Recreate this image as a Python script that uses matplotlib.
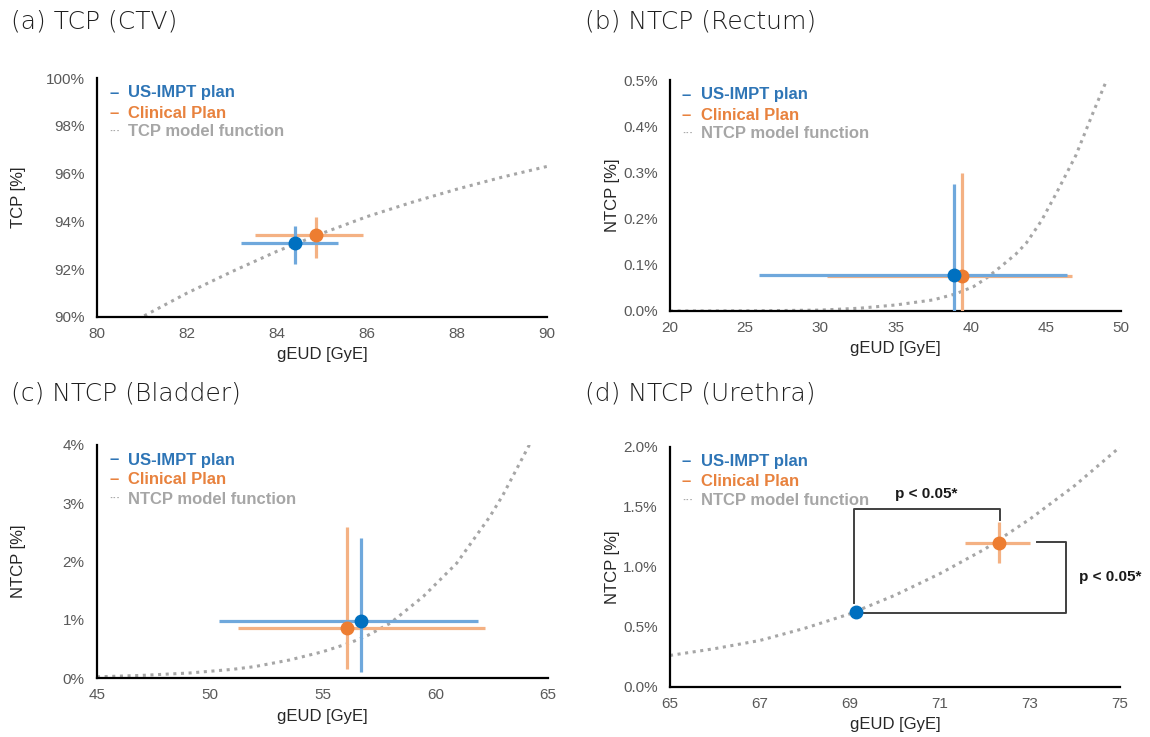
import matplotlib
matplotlib.use("Agg")
import matplotlib.pyplot as plt
import matplotlib.transforms as mtransforms
from matplotlib.ticker import FuncFormatter

# =====================================================================
# DATA
# =====================================================================
# (a) TCP (CTV)
a_model_x = [80.0, 81.0, 82.0, 83.0, 84.0, 85.0, 86.0, 87.0, 88.0, 89.0, 90.0]
a_model_y = [89.0, 90.0, 91.0, 91.9, 92.75, 93.5, 94.2, 94.8, 95.35, 95.85, 96.3]
a_us = dict(x=84.4, y=93.1, xerr=(1.2, 0.95), yerr=(0.9, 0.7))
a_cl = dict(x=84.87, y=93.45, xerr=(1.35, 1.05), yerr=(1.0, 0.72))

# (b) NTCP (Rectum)
b_model_x = [20.0, 26.0, 30.0, 32.6, 35.0, 37.5, 39.0, 40.2, 41.0, 42.0, 43.0,
             43.7, 44.7, 45.7, 47.0, 48.2, 49.0, 49.6]
b_model_y = [0.0, 0.0005, 0.002, 0.006, 0.013, 0.024, 0.037, 0.053, 0.07, 0.096, 0.123,
             0.147, 0.195, 0.255, 0.337, 0.434, 0.496, 0.54]
b_us = dict(x=38.87, y=0.079, xerr=(12.93, 7.52), yerr=(0.079, 0.195))
b_cl = dict(x=39.4, y=0.076, xerr=(8.97, 7.33), yerr=(0.076, 0.222))

# (c) NTCP (Bladder)
c_model_x = [45.0, 47.0, 49.1, 51.0, 52.0, 53.55, 55.0, 56.2, 57.0, 58.0, 59.47,
             60.95, 62.42, 63.0, 64.17, 64.5]
c_model_y = [0.02, 0.045, 0.086, 0.148, 0.196, 0.31, 0.45, 0.6, 0.73, 0.94, 1.40,
             1.97, 2.77, 3.14, 4.0, 4.25]
c_us = dict(x=56.72, y=0.98, xerr=(6.3, 5.18), yerr=(0.87, 1.43))
c_cl = dict(x=56.08, y=0.85, xerr=(4.83, 6.12), yerr=(0.70, 1.74))

# (d) NTCP (Urethra)
d_model_x = [65.0, 66.0, 67.0, 68.0, 69.0, 70.0, 71.0, 72.0, 73.0, 74.0, 75.0]
d_model_y = [0.263, 0.32, 0.388, 0.49, 0.61, 0.765, 0.945, 1.15, 1.40, 1.68, 2.0]
d_us = dict(x=69.13, y=0.627, xerr=(0.0, 0.0), yerr=(0.0, 0.0))
d_cl = dict(x=72.32, y=1.203, xerr=(0.76, 0.68), yerr=(0.17, 0.17))

# significance brackets in (d)
brk1_x = [69.09, 69.09, 72.33, 72.33]
brk1_y = [0.70, 1.483, 1.483, 1.39]
brk2_x = [73.15, 73.79, 73.79, 69.31]
brk2_y = [1.205, 1.205, 0.62, 0.62]
p_label = "p < 0.05*"
p1_pos = (70.7, 1.61)
p2_pos = (74.78, 0.914)

# =====================================================================
# STYLE
# =====================================================================
BLUE_PT = '#0070C0'
BLUE_ERR = '#6FA8DC'
BLUE_TXT = '#2E75B6'
ORANGE_PT = '#ED7D31'
ORANGE_ERR = '#F4B183'
ORANGE_TXT = '#E8823E'
GREY = '#A6A6A6'
TICK_COL = '#595959'

plt.rcParams['font.family'] = ['Liberation Sans', 'DejaVu Sans']

W, H = 1150, 737
fig = plt.figure(figsize=(W / 100, H / 100), dpi=100)
fig.patch.set_facecolor('white')


def make_axes(left, right, top, bottom):
    return fig.add_axes([left / W, 1 - bottom / H, (right - left) / W, (bottom - top) / H])


def style_axes(ax, xlim, xticks, ylim, yticks, yfmt, ylabel, ylabel_x):
    ax.set_xlim(*xlim)
    ax.set_ylim(*ylim)
    ax.set_xticks(xticks)
    ax.set_yticks(yticks)
    ax.yaxis.set_major_formatter(FuncFormatter(lambda v, p: yfmt.format(v)))
    for s in ['top', 'right']:
        ax.spines[s].set_visible(False)
    for s in ['left', 'bottom']:
        ax.spines[s].set_linewidth(1.6)
        ax.spines[s].set_color('black')
    ax.tick_params(axis='both', length=0, labelsize=11, labelcolor=TICK_COL)
    ax.tick_params(axis='x', pad=7)
    ax.tick_params(axis='y', pad=9)
    ax.set_xlabel("gEUD [GyE]", fontsize=12, color='#262626')
    ax.xaxis.label.set_va('center')
    ax.xaxis.set_label_coords(0.5, -38 / (ax.bbox.height), transform=ax.transAxes)
    ax.set_ylabel(ylabel, fontsize=12, color='#262626')
    ax.yaxis.label.set_va('center')
    pos = ax.get_position()
    ax.yaxis.set_label_coords(ylabel_x / W, pos.y0 + pos.height / 2, transform=fig.transFigure)


def legend_block(ax, model_label):
    rows = [("–", "US-IMPT plan", BLUE_TXT, -15),
            ("–", "Clinical Plan", ORANGE_TXT, -35),
            ("···", model_label, GREY, -54)]
    for mark, label, col, dy in rows:
        t1 = mtransforms.offset_copy(ax.transAxes, fig=fig, x=12, y=dy, units='dots')
        t2 = mtransforms.offset_copy(ax.transAxes, fig=fig, x=31, y=dy, units='dots')
        ax.text(0, 1, mark, transform=t1, color=col, fontsize=12 if mark == "–" else 8,
                fontweight='bold', va='center', ha='left')
        ax.text(0, 1, label, transform=t2, color=col, fontsize=12,
                fontweight='bold', va='center', ha='left')


def draw_panel(ax, mx, my, us, cl):
    ax.plot(mx, my, color=GREY, lw=2.2, linestyle=(0, (1, 1.5)), zorder=2)
    for d, ec, fc in [(cl, ORANGE_ERR, ORANGE_PT), (us, BLUE_ERR, BLUE_PT)]:
        ax.errorbar([d['x']], [d['y']],
                    xerr=[[d['xerr'][0]], [d['xerr'][1]]],
                    yerr=[[d['yerr'][0]], [d['yerr'][1]]],
                    fmt='o', color=fc, markersize=9, ecolor=ec,
                    elinewidth=2.3, capsize=0, zorder=3)


# (a)
ax_a = make_axes(97, 547, 78, 317)
style_axes(ax_a, (80, 90), range(80, 91, 2), (90, 100), range(90, 101, 2),
           "{:.0f}%", "TCP [%]", 19)
draw_panel(ax_a, a_model_x, a_model_y, a_us, a_cl)
legend_block(ax_a, "TCP model function")

# (b)
ax_b = make_axes(670, 1121, 80, 311)
style_axes(ax_b, (20, 50), range(20, 51, 5), (0, 0.5), [0, 0.1, 0.2, 0.3, 0.4, 0.5],
           "{:.1f}%", "NTCP [%]", 612)
draw_panel(ax_b, b_model_x, b_model_y, b_us, b_cl)
legend_block(ax_b, "NTCP model function")

# (c)
ax_c = make_axes(97, 548, 445, 678)
style_axes(ax_c, (45, 65), range(45, 66, 5), (0, 4), range(0, 5),
           "{:.0f}%", "NTCP [%]", 19)
draw_panel(ax_c, c_model_x, c_model_y, c_us, c_cl)
legend_block(ax_c, "NTCP model function")

# (d)
ax_d = make_axes(670, 1120, 447, 687)
style_axes(ax_d, (65, 75), range(65, 76, 2), (0, 2.0), [0, 0.5, 1.0, 1.5, 2.0],
           "{:.1f}%", "NTCP [%]", 612)
draw_panel(ax_d, d_model_x, d_model_y, d_us, d_cl)
legend_block(ax_d, "NTCP model function")
ax_d.plot(brk1_x, brk1_y, color='#404040', lw=1.4, zorder=1, clip_on=False)
ax_d.plot(brk2_x, brk2_y, color='#404040', lw=1.4, zorder=1, clip_on=False)
ax_d.text(*p1_pos, p_label, fontsize=11, fontweight='bold', color='#1a1a1a',
          ha='center', va='center', clip_on=False)
ax_d.text(*p2_pos, p_label, fontsize=11, fontweight='bold', color='#1a1a1a',
          ha='center', va='center', clip_on=False)

# panel titles
title_kw = dict(fontsize=18, fontweight='light', color='#1f1f1f', va='center', ha='left',
                family=['DejaVu Sans'])
fig.text(11 / W, 1 - 22 / H, "(a) TCP (CTV)", **title_kw)
fig.text(585 / W, 1 - 22 / H, "(b) NTCP (Rectum)", **title_kw)
fig.text(11 / W, 1 - 393 / H, "(c) NTCP (Bladder)", **title_kw)
fig.text(585 / W, 1 - 393 / H, "(d) NTCP (Urethra)", **title_kw)

fig.savefig("out.png", dpi=100)
